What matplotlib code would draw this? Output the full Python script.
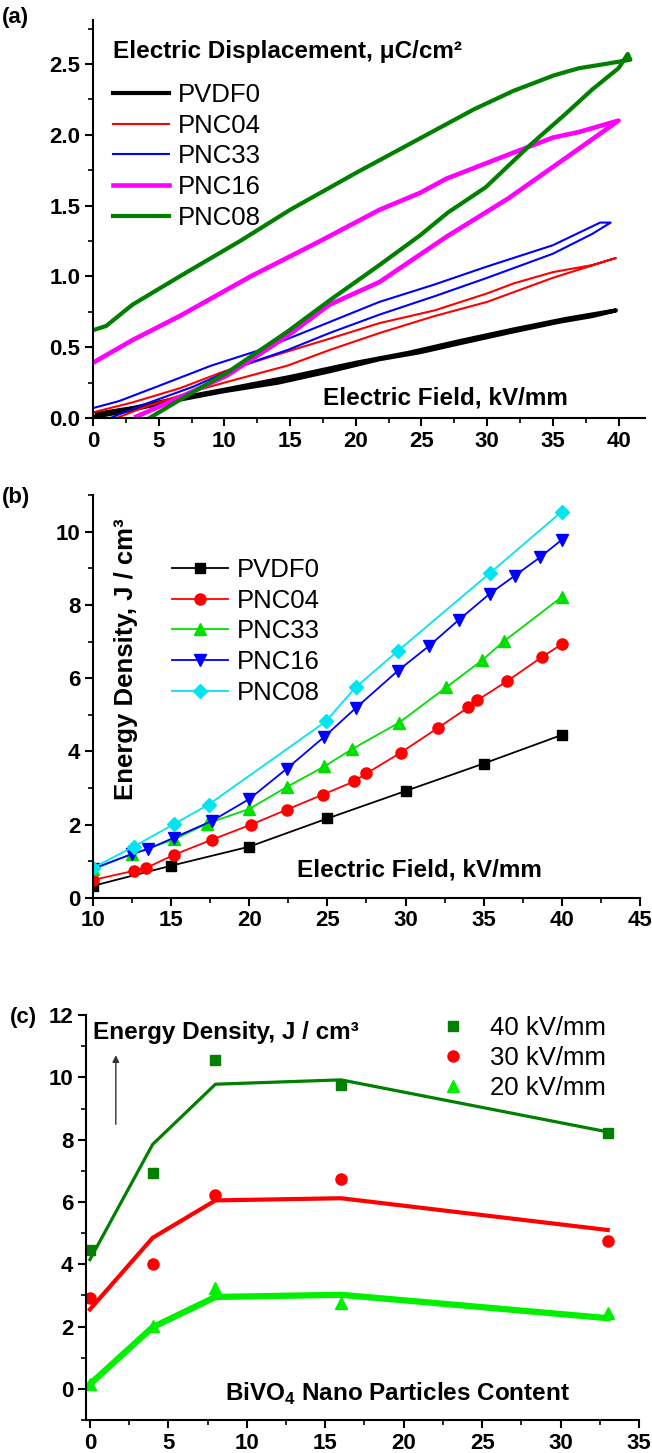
import matplotlib.pyplot as plt
from matplotlib.ticker import MultipleLocator

plt.rcParams['font.family'] = ['Liberation Sans', 'DejaVu Sans']
plt.rcParams['mathtext.fontset'] = 'custom'
plt.rcParams['mathtext.rm'] = 'Liberation Sans:bold'
plt.rcParams['mathtext.bf'] = 'Liberation Sans:bold'

# (a) D-E loops: each path goes up the rising branch then back along the falling one
e_pvdf0 = [0.15, 2, 4, 6.6, 10, 14.1, 18, 21.8, 24.9, 28, 31.9, 35.5, 38, 39.8,
           39.5, 36, 32, 28, 24, 20, 15, 10, 6, 3, 0.3]
d_pvdf0 = [0.01, 0.04, 0.08, 0.13, 0.19, 0.25, 0.33, 0.415, 0.465, 0.53, 0.61, 0.68, 0.72, 0.76,
           0.755, 0.7, 0.625, 0.545, 0.46, 0.39, 0.29, 0.2, 0.13, 0.07, 0.03]

e_pnc04 = [1.8, 4, 7.3, 10, 14.8, 18, 21.8, 26, 30, 35, 39.8,
           38, 35, 32, 30, 26, 21.8, 18, 14.8, 10, 6.6, 3, 0]
d_pnc04 = [0.0, 0.08, 0.18, 0.25, 0.37, 0.48, 0.6, 0.72, 0.82, 0.99, 1.13,
           1.08, 1.03, 0.95, 0.88, 0.76, 0.67, 0.56, 0.47, 0.33, 0.21, 0.11, 0.04]

e_pnc33 = [1.3, 4, 7.6, 11, 14.8, 18, 21.8, 26, 30, 35, 38, 39.4,
           38.6, 35, 30, 25.9, 21.8, 17, 12.7, 9, 5.1, 2, 0]
d_pnc33 = [0.0, 0.1, 0.22, 0.36, 0.48, 0.6, 0.73, 0.86, 0.99, 1.16, 1.3, 1.38,
           1.38, 1.22, 1.07, 0.94, 0.82, 0.64, 0.48, 0.37, 0.23, 0.12, 0.07]

e_pnc16 = [3.3, 6, 10.2, 14.8, 18, 21.8, 26.9, 31.6, 36.8, 40,
           37, 35, 31.9, 26.9, 24.9, 21.8, 17.3, 12, 6.6, 3, 0]
d_pnc16 = [0.01, 0.12, 0.3, 0.58, 0.8, 0.96, 1.28, 1.55, 1.89, 2.1,
           2.02, 1.98, 1.87, 1.69, 1.59, 1.47, 1.25, 1.0, 0.72, 0.55, 0.39]

e_pnc08 = [4.3, 7, 10.2, 14.8, 18, 21.8, 24.9, 27, 29.9, 33.3, 36, 38, 40, 40.7, 40.9,
           39, 37, 35.1, 32, 29, 25, 20, 15, 11.2, 6.6, 3, 1, 0]
d_pnc08 = [0.0, 0.15, 0.32, 0.61, 0.83, 1.08, 1.29, 1.45, 1.63, 1.93, 2.15, 2.32, 2.47, 2.57, 2.53,
           2.5, 2.47, 2.42, 2.31, 2.18, 1.98, 1.73, 1.47, 1.25, 1.0, 0.8, 0.65, 0.62]

# (b) energy density vs field
f_pvdf0 = [10, 15, 20, 25, 30, 35, 40]
w_pvdf0 = [0.33, 0.88, 1.4, 2.17, 2.92, 3.67, 4.45]

f_pnc04 = [10, 12.6, 13.4, 15.2, 17.6, 20.1, 22.4, 24.7, 26.7, 27.5, 29.7, 32.1, 34.0, 34.6, 36.5, 38.7, 40]
w_pnc04 = [0.49, 0.74, 0.82, 1.18, 1.59, 2.0, 2.41, 2.82, 3.18, 3.4, 3.97, 4.65, 5.2, 5.4, 5.92, 6.57, 6.93]

f_pnc33 = [10, 12.5, 15.2, 17.3, 20.0, 22.4, 24.8, 26.6, 29.6, 32.6, 34.9, 36.3, 40]
w_pnc33 = [0.78, 1.2, 1.6, 2.03, 2.43, 3.03, 3.59, 4.07, 4.79, 5.75, 6.49, 7.01, 8.22]

f_pnc16 = [10, 12.5, 13.5, 15.2, 17.6, 20, 22.4, 24.8, 26.8, 29.5, 31.5, 33.4, 35.4, 37.0, 38.6, 40]
w_pnc16 = [0.8, 1.2, 1.33, 1.65, 2.1, 2.7, 3.53, 4.4, 5.18, 6.2, 6.88, 7.59, 8.31, 8.8, 9.3, 9.78]

f_pnc08 = [10, 12.6, 15.2, 17.4, 24.9, 26.8, 29.5, 35.4, 40]
w_pnc08 = [0.82, 1.4, 2.02, 2.55, 4.82, 5.75, 6.74, 8.87, 10.55]

# (c) energy density vs BiVO4 content
content = [0, 4, 8, 16, 33]
w40 = [4.47, 6.92, 10.55, 9.77, 8.2]
w30 = [2.93, 4.0, 6.21, 6.75, 4.76]
w20 = [0.16, 2.02, 3.25, 2.76, 2.42]
fit40 = [4.15, 7.85, 9.78, 9.92, 8.25]
fit30 = [2.55, 4.85, 6.05, 6.12, 5.1]
fit20 = [0.15, 1.98, 2.95, 3.02, 2.27]

dark_green = '#007f00'
lime = '#00f000'
LBL = 17.5   # bold axis captions
LEG = 18.5   # legend entries


def style_axes(ax):
    ax.spines['top'].set_visible(False)
    ax.spines['right'].set_visible(False)
    for s in ('left', 'bottom'):
        ax.spines[s].set_linewidth(1.5)
    ax.tick_params(which='major', direction='out', length=6, width=1.5, pad=3, labelsize=16)
    ax.tick_params(which='minor', direction='out', length=3.5, width=1.2)
    for lab in ax.get_xticklabels() + ax.get_yticklabels():
        lab.set_fontweight('bold')


fig = plt.figure(figsize=(6.52, 14.53), dpi=100)

# ---- (a)
ax1 = fig.add_axes([0.1426, 0.7123, 0.8464, 0.2739])
ax1.plot(e_pvdf0, d_pvdf0, color='black', lw=3, label='PVDF0')
ax1.plot(e_pnc04, d_pnc04, color='red', lw=1.5, label='PNC04')
ax1.plot(e_pnc33, d_pnc33, color='blue', lw=1.5, label='PNC33')
ax1.plot(e_pnc16, d_pnc16, color='magenta', lw=3.3, label='PNC16')
ax1.plot(e_pnc08, d_pnc08, color=dark_green, lw=3, label='PNC08')
ax1.set_xlim(0, 42)
ax1.set_ylim(0, 2.81)
ax1.xaxis.set_major_locator(MultipleLocator(5))
ax1.xaxis.set_minor_locator(MultipleLocator(2.5))
ax1.yaxis.set_major_locator(MultipleLocator(0.5))
ax1.yaxis.set_minor_locator(MultipleLocator(0.25))
ax1.yaxis.set_major_formatter(lambda v, p: f'{v:.1f}')
style_axes(ax1)
ax1.legend(loc='upper left', bbox_to_anchor=(0.036, 0.842), frameon=False, fontsize=LEG,
           handlelength=2.2, handletextpad=0.35, labelspacing=0.26, borderpad=0, borderaxespad=0)
ax1.text(0.036, 0.92, 'Electric Displacement, μC/cm²', transform=ax1.transAxes,
         fontsize=LBL, fontweight='bold', va='center', ha='left')
ax1.text(0.86, 0.05, 'Electric Field, kV/mm', transform=ax1.transAxes,
         fontsize=LBL, fontweight='bold', va='center', ha='right')

# ---- (b)
ax2 = fig.add_axes([0.1426, 0.382, 0.839, 0.2773])
ax2.plot(f_pvdf0, w_pvdf0, color='black', lw=1.3, marker='s', ms=7, label='PVDF0')
ax2.plot(f_pnc04, w_pnc04, color='red', lw=1.3, marker='o', ms=8, label='PNC04')
ax2.plot(f_pnc33, w_pnc33, color='#00e000', lw=1.3, marker='^', ms=9, label='PNC33')
ax2.plot(f_pnc16, w_pnc16, color='blue', lw=1.3, marker='v', ms=9, label='PNC16')
ax2.plot(f_pnc08, w_pnc08, color='#00e5f0', lw=1.3, marker='D', ms=7, label='PNC08')
ax2.set_xlim(10, 45)
ax2.set_ylim(0, 11)
ax2.xaxis.set_major_locator(MultipleLocator(5))
ax2.xaxis.set_minor_locator(MultipleLocator(2.5))
ax2.yaxis.set_major_locator(MultipleLocator(2))
ax2.yaxis.set_minor_locator(MultipleLocator(1))
style_axes(ax2)
ax2.legend(loc='upper left', bbox_to_anchor=(0.144, 0.844), frameon=False, fontsize=LEG,
           handlelength=2.2, handletextpad=0.35, labelspacing=0.26, borderpad=0, borderaxespad=0)
ax2.text(0.06, 0.593, 'Energy Density, J / cm³', transform=ax2.transAxes, rotation=90,
         fontsize=18.5, fontweight='bold', va='center', ha='center')
ax2.text(0.82, 0.07, 'Electric Field, kV/mm', transform=ax2.transAxes,
         fontsize=LBL, fontweight='bold', va='center', ha='right')

# ---- (c)
ax3 = fig.add_axes([0.1319, 0.0227, 0.8482, 0.2787])
ax3.plot(content, fit40, color=dark_green, lw=2.3)
ax3.plot(content, fit30, color='red', lw=3)
ax3.plot(content, fit20, color=lime, lw=4.5)
ax3.plot(content, w40, ls='none', marker='s', ms=7, color=dark_green, label='40 kV/mm')
ax3.plot(content, w30, ls='none', marker='o', ms=8, color='red', label='30 kV/mm')
ax3.plot(content, w20, ls='none', marker='^', ms=9, color=lime, label='20 kV/mm')
ax3.set_xlim(-0.25, 35)
ax3.set_ylim(-1, 12)
ax3.xaxis.set_major_locator(MultipleLocator(5))
ax3.xaxis.set_minor_locator(MultipleLocator(2.5))
ax3.yaxis.set_major_locator(MultipleLocator(2))
ax3.yaxis.set_minor_locator(MultipleLocator(1))
style_axes(ax3)
ax3.legend(loc='upper left', bbox_to_anchor=(0.618, 0.998), frameon=False, fontsize=LEG,
           handlelength=2.0, handletextpad=0.43, labelspacing=0.24, borderpad=0, borderaxespad=0)
ax3.text(0.013, 0.958, 'Energy Density, J / cm³', transform=ax3.transAxes,
         fontsize=LBL, fontweight='bold', va='center', ha='left')
ax3.annotate('', xy=(1.65, 10.8), xytext=(1.65, 8.4),
             arrowprops=dict(arrowstyle='-|>', color='#333333', lw=1, mutation_scale=10))
ax3.text(0.875, 0.064, r'BiVO$_\mathbf{4}$ Nano Particles Content', transform=ax3.transAxes,
         fontsize=LBL, fontweight='bold', va='center', ha='right')

# panel letters
fig.text(2 / 652, 1 - 17 / 1453, '(a)', fontsize=16, fontweight='bold', va='center')
fig.text(2 / 652, 1 - 497 / 1453, '(b)', fontsize=16, fontweight='bold', va='center')
fig.text(10 / 652, 1 - 1017 / 1453, '(c)', fontsize=16, fontweight='bold', va='center')

fig.savefig('out.png', dpi=100)
